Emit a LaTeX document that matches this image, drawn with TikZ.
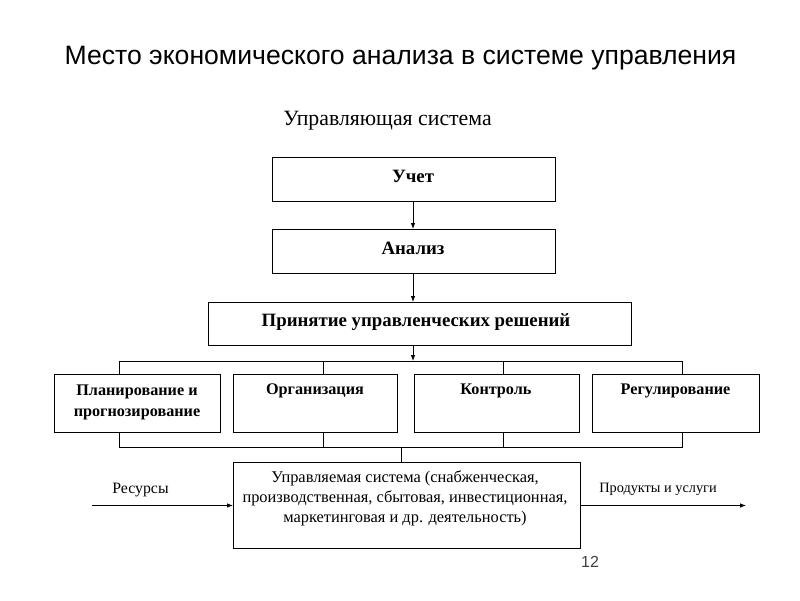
\documentclass[tikz,border=0pt]{standalone}
\usepackage{fontspec}
\setmainfont{Liberation Serif}
\newfontfamily\arialfont{Liberation Sans}
\usetikzlibrary{arrows.meta}
\begin{document}
\begin{tikzpicture}[x=1pt,y=-1pt,
  box/.style={draw, line width=0.8pt, rectangle, inner sep=0pt, anchor=north west},
  btxt/.style={font=\fontsize{18.8}{22}\selectfont\bfseries, align=center, inner sep=0pt},
  rowtxt/.style={font=\fontsize{16.2}{21}\selectfont\bfseries, align=center, inner sep=0pt},
  rtxt/.style={font=\fontsize{16.4}{20}\selectfont, align=center, inner sep=0pt},
  ln/.style={line width=0.8pt},
  arr/.style={line width=0.8pt, -{Latex[length=6pt,width=4.5pt]}}]
\useasboundingbox[fill=white] (0,0) rectangle (800,600);

\node[font=\arialfont\fontsize{26.6}{30}\selectfont, inner sep=0pt] (title) at (400.5,58.5) {Место экономического анализа в системе управления};
\node[font=\fontsize{21.8}{25}\selectfont, inner sep=0pt] (upr) at (387.5,121) {Управляющая система};

\node[box, minimum width=283pt, minimum height=44pt] (uchet) at (272,157) {};
\node[btxt] (tuchet) at (413,176) {Учет};
\node[box, minimum width=283pt, minimum height=44pt] (analiz) at (272,229) {};
\node[btxt] (tanaliz) at (413,248) {Анализ};
\node[box, minimum width=423pt, minimum height=43pt] (prin) at (208,302) {};
\node[btxt] (tprin) at (416,322) {Принятие управленческих решений};

\node[box, minimum width=166pt, minimum height=58pt] (b1) at (54,374) {};
\node[box, minimum width=164pt, minimum height=58pt] (b2) at (233,374) {};
\node[box, minimum width=165pt, minimum height=58pt] (b3) at (414,374) {};
\node[box, minimum width=167pt, minimum height=58pt] (b4) at (592,374) {};
\node[rowtxt] (t1) at (137,402) {Планирование и\\прогнозирование};
\node[rowtxt] (t2) at (315,391) {Организация};
\node[rowtxt] (t3) at (496,391) {Контроль};
\node[rowtxt] (t4) at (675.5,391) {Регулирование};

\node[box, minimum width=347pt, minimum height=86pt] (sys) at (233,462) {};
\node[rtxt] (tsys) at (405,498.5) {Управляемая система (снабженческая,\\производственная, сбытовая, инвестиционная,\\маркетинговая и др. деятельность)};

% vertical reference coordinates
\coordinate (va) at (413,0);
\coordinate (v1) at (119,0);
\coordinate (v2) at (323,0);
\coordinate (v3) at (503,0);
\coordinate (v4) at (682,0);
\coordinate (vs) at (401,0);
\coordinate (bus) at (413,361);
\coordinate (busl) at (119,361);
\coordinate (busr) at (682,361);
\coordinate (lbus) at (119,447);
\coordinate (lbusr) at (682,447);
\coordinate (inl) at (92,505.5);
\coordinate (outr) at (746,505.5);

\draw[arr] (uchet.south -| va) -- (analiz.north -| va);
\draw[arr] (analiz.south -| va) -- (prin.north -| va);
\draw[arr] (prin.south -| va) -- (bus);
\draw[ln] (b1.north -| v1) -- (busl) -- (busr) -- (b4.north -| v4);
\draw[ln] (b2.north -| v2) -- (busl -| v2);
\draw[ln] (b3.north -| v3) -- (busl -| v3);
\draw[ln] (b1.south -| v1) -- (lbus) -- (lbusr) -- (b4.south -| v4);
\draw[ln] (b2.south -| v2) -- (lbus -| v2);
\draw[ln] (b3.south -| v3) -- (lbus -| v3);
\draw[ln] (lbus -| vs) -- (sys.north -| vs);

\draw[arr] (inl) -- (inl -| sys.west);
\draw[arr] (inl -| sys.east) -- (outr);
\node[font=\fontsize{15.8}{18}\selectfont, inner sep=0pt] (lres) at (140.5,490.5) {Ресурсы};
\node[font=\fontsize{14.3}{17}\selectfont, inner sep=0pt] (lprod) at (658,489.5) {Продукты и услуги};

\node[font=\arialfont\fontsize{16}{19}\selectfont, text=black!75, inner sep=0pt] (pg) at (590,562) {12};
\end{tikzpicture}
\end{document}
